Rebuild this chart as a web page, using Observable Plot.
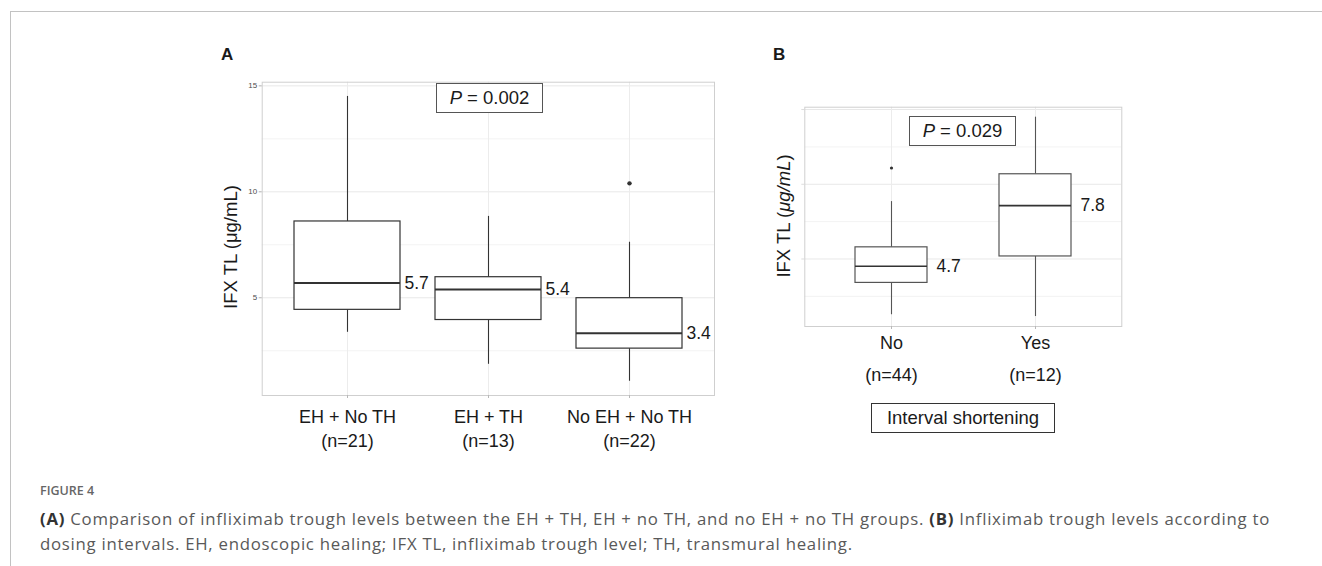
<!DOCTYPE html>
<html>
<head>
<meta charset="utf-8">
<script src="https://cdn.jsdelivr.net/npm/d3@7"></script>
<script src="https://cdn.jsdelivr.net/npm/@observablehq/plot@0.6"></script>
<style>
  html, body { margin: 0; padding: 0; background: #fff; }
  #page { position: relative; width: 1322px; height: 566px; overflow: hidden; background: #fff;
          font-family: "Liberation Sans", Arial, Helvetica, sans-serif; color: #1a1a1a; }
  .frameline { position: absolute; left: 10px; top: 11px; right: 0; bottom: -5px;
               border-top: 1.5px solid #c2c2c2; border-left: 1.5px solid #c2c2c2; }
  .plot { position: absolute; overflow: visible; }
  .plot svg { overflow: visible; }
  .letter { position: absolute; font-weight: bold; font-size: 17px; line-height: 20px; }
  .pbox { position: absolute; border: 1.2px solid #555; box-sizing: border-box; background: #fff;
          font-size: 18.5px; display: flex; align-items: center; justify-content: center; white-space: nowrap; }
  .ylab { position: absolute; font-size: 18.5px; white-space: nowrap; transform: translate(-50%, -50%) rotate(-90deg); line-height: 20px; }
  .caption { position: absolute; left: 40px; font-family: "Open Sans", "Noto Sans", sans-serif; color: #595959; white-space: nowrap; }
  .capline { display: block; }
  .capline span.inner { display: inline-block; }
</style>
</head>
<body>
<div id="page">
  <div class="frameline"></div>
  <div class="letter" style="left:221px; top:45px;">A</div>
  <div class="letter" style="left:773px; top:45px;">B</div>
  <div id="plotA" class="plot" style="left:160px; top:40px;"></div>
  <div id="plotB" class="plot" style="left:740px; top:40px;"></div>
  <div class="ylab" style="left:231px; top:247px;">IFX TL (μg/mL)</div>
  <div class="ylab" style="left:784px; top:216px;">IFX TL (<i>μg/mL</i>)</div>
  <div id="pA" class="pbox" style="left:436px; top:83px; width:107px; height:30px;"></div>
  <div id="pB" class="pbox" style="left:909px; top:116px; width:107px; height:30px;"></div>
  <div id="xtitleB" class="pbox" style="left:871px; top:403px; width:184px; height:30px; border-color:#333;"></div>
  <div class="caption" style="top:482px; font-size:12.5px; line-height:18px; font-weight:600; color:#666;">FIGURE 4</div>
  <div id="cap" class="caption" style="top:506px; font-size:16.8px; line-height:25px;"></div>
</div>
<script>
// ---------- Panel A data ----------
const groupsA = ["EH + No TH", "EH + TH", "No EH + No TH"];
const nA = [21, 13, 22];
const lowA = [3.37, 1.86, 1.06];
const q1A = [4.43, 3.95, 2.6];
const medianA = [5.7, 5.39, 3.33];
const q3A = [8.6, 5.97, 4.98];
const highA = [14.5, 8.84, 7.62];
const medianLabelA = ["5.7", "5.4", "3.4"];
const outlierGroupA = ["No EH + No TH"];
const outlierValueA = [10.4];
const pValueA = "0.002";

// ---------- Panel B data ----------
const groupsB = ["No", "Yes"];
const nB = [44, 12];
const lowB = [1.27, 1.15];
const q1B = [3.4, 5.17];
const medianB = [4.51, 8.57];
const q3B = [5.78, 10.67];
const highB = [8.84, 14.49];
const medianLabelB = ["4.7", "7.8"];
const outlierGroupB = ["No"];
const outlierValueB = [11.09];
const pValueB = "0.029";
const xTitleB = "Interval shortening";

// ---------- Axis ticks ----------
const majorTicks = [5, 10, 15];
const minorTicks = [2.5, 7.5, 12.5];

const captionLine1 = "Comparison of infliximab trough levels between the EH + TH, EH + no TH, and no EH + no TH groups.";
const captionLine2a = "Infliximab trough levels according to";
const captionLine3 = "dosing intervals. EH, endoscopic healing; IFX TL, infliximab trough level; TH, transmural healing.";

function rows(groups, n, low, q1, med, q3, high, lab) {
  return groups.map((g, i) => ({group: g, n: n[i], low: low[i], q1: q1[i], median: med[i], q3: q3[i], high: high[i], label: lab[i]}));
}
function expandDomain(vals) {
  const lo = d3.min(vals), hi = d3.max(vals), pad = (hi - lo) * 0.05;
  return [lo - pad, hi + pad];
}

const FONT = '"Liberation Sans", Arial, Helvetica, sans-serif';

function boxPanel(cfg) {
  const data = rows(cfg.groups, cfg.n, cfg.low, cfg.q1, cfg.med, cfg.q3, cfg.high, cfg.lab);
  const outliers = cfg.og.map((g, i) => ({group: g, value: cfg.ov[i]}));
  const nMap = new Map(data.map(d => [d.group, d.n]));
  const domain = expandDomain([...cfg.low, ...cfg.high, ...cfg.ov]);
  return Plot.plot({
    width: cfg.width, height: cfg.height,
    marginLeft: cfg.ml, marginRight: cfg.mr, marginTop: cfg.mt, marginBottom: cfg.mb,
    style: {fontFamily: FONT, background: "transparent", overflow: "visible"},
    x: {type: "band", domain: cfg.groups, paddingInner: cfg.pi, paddingOuter: cfg.po},
    y: {domain},
    marks: [
      Plot.ruleY(minorTicks, {stroke: "#f3f3f3", strokeWidth: 1}),
      Plot.ruleY(majorTicks, {stroke: "#e8e8e8", strokeWidth: 1}),
      Plot.ruleX(cfg.groups, {stroke: "#ececec", strokeWidth: 1}),
      Plot.frame({stroke: "#cfcfcf", strokeWidth: 1}),
      Plot.axisY({ticks: majorTicks, tickSize: 3, tickPadding: 2, stroke: cfg.yTickStroke, fill: cfg.yTextFill, fontSize: 8, label: null}),
      Plot.axisX({tickSize: 3, tickPadding: cfg.xpad, stroke: "#b8b8b8", fill: "#1a1a1a", fontSize: 18, lineHeight: cfg.lh,
                  tickFormat: g => `${g}\n(n=${nMap.get(g)})`, label: null}),
      Plot.ruleX(data, {x: "group", y1: "q3", y2: "high", stroke: cfg.boxStroke, strokeWidth: 1.1}),
      Plot.ruleX(data, {x: "group", y1: "low", y2: "q1", stroke: cfg.boxStroke, strokeWidth: 1.1}),
      Plot.barY(data, {x: "group", y1: "q1", y2: "q3", fill: "white", stroke: cfg.boxStroke, strokeWidth: 1.2}),
      Plot.tickY(data, {x: "group", y: "median", stroke: "#333", strokeWidth: cfg.medW}),
      Plot.dot(outliers, {x: "group", y: "value", r: cfg.dotR, fill: "#333", stroke: "none"}),
      Plot.text(data, {x: "group", y: "median", text: "label", textAnchor: "start", dx: cfg.labelDx, fontSize: 17.5, fill: "#1a1a1a"})
    ]
  });
}

document.getElementById("plotA").append(boxPanel({
  groups: groupsA, n: nA, low: lowA, q1: q1A, med: medianA, q3: q3A, high: highA, lab: medianLabelA,
  og: outlierGroupA, ov: outlierValueA,
  width: 580, height: 420, ml: 101.7, mr: 26, mt: 41.7, mb: 65,
  pi: 0.25, po: 0.225, xpad: 8, lh: 1.33, medW: 2, dotR: 2.2, labelDx: 57,
  boxStroke: "#333", yTickStroke: "#b3b3b3", yTextFill: "#4d4d4d"
}));

document.getElementById("plotB").append(boxPanel({
  groups: groupsB, n: nB, low: lowB, q1: q1B, med: medianB, q3: q3B, high: highB, lab: medianLabelB,
  og: outlierGroupB, ov: outlierValueB,
  width: 420, height: 380, ml: 64.3, mr: 38.7, mt: 66.7, mb: 94,
  pi: 0.5, po: 0.35, xpad: -3, lh: 1.76, medW: 1.6, dotR: 1.6, labelDx: 45,
  boxStroke: "#555", yTickStroke: "#dddddd", yTextFill: "none"
}));

document.getElementById("pA").innerHTML = `<span><i>P</i> = ${pValueA}</span>`;
document.getElementById("pB").innerHTML = `<span><i>P</i> = ${pValueB}</span>`;
document.getElementById("xtitleB").textContent = xTitleB;

// Caption: two lines, stretched (letter-spacing) to the reference's line length
const cap = document.getElementById("cap");
cap.innerHTML =
  `<span class="capline"><span class="inner" id="cl1"><b style="color:#333">(A)</b> ${captionLine1} <b style="color:#333">(B)</b> ${captionLine2a}</span></span>` +
  `<span class="capline"><span class="inner" id="cl2">${captionLine3}</span></span>`;
const cl1 = document.getElementById("cl1");
const targetWidth = 1230;
const w0 = cl1.getBoundingClientRect().width;
const nChars = cl1.textContent.length;
const ls = (targetWidth - w0) / nChars;
cap.style.letterSpacing = ls + "px";
</script>
</body>
</html>
